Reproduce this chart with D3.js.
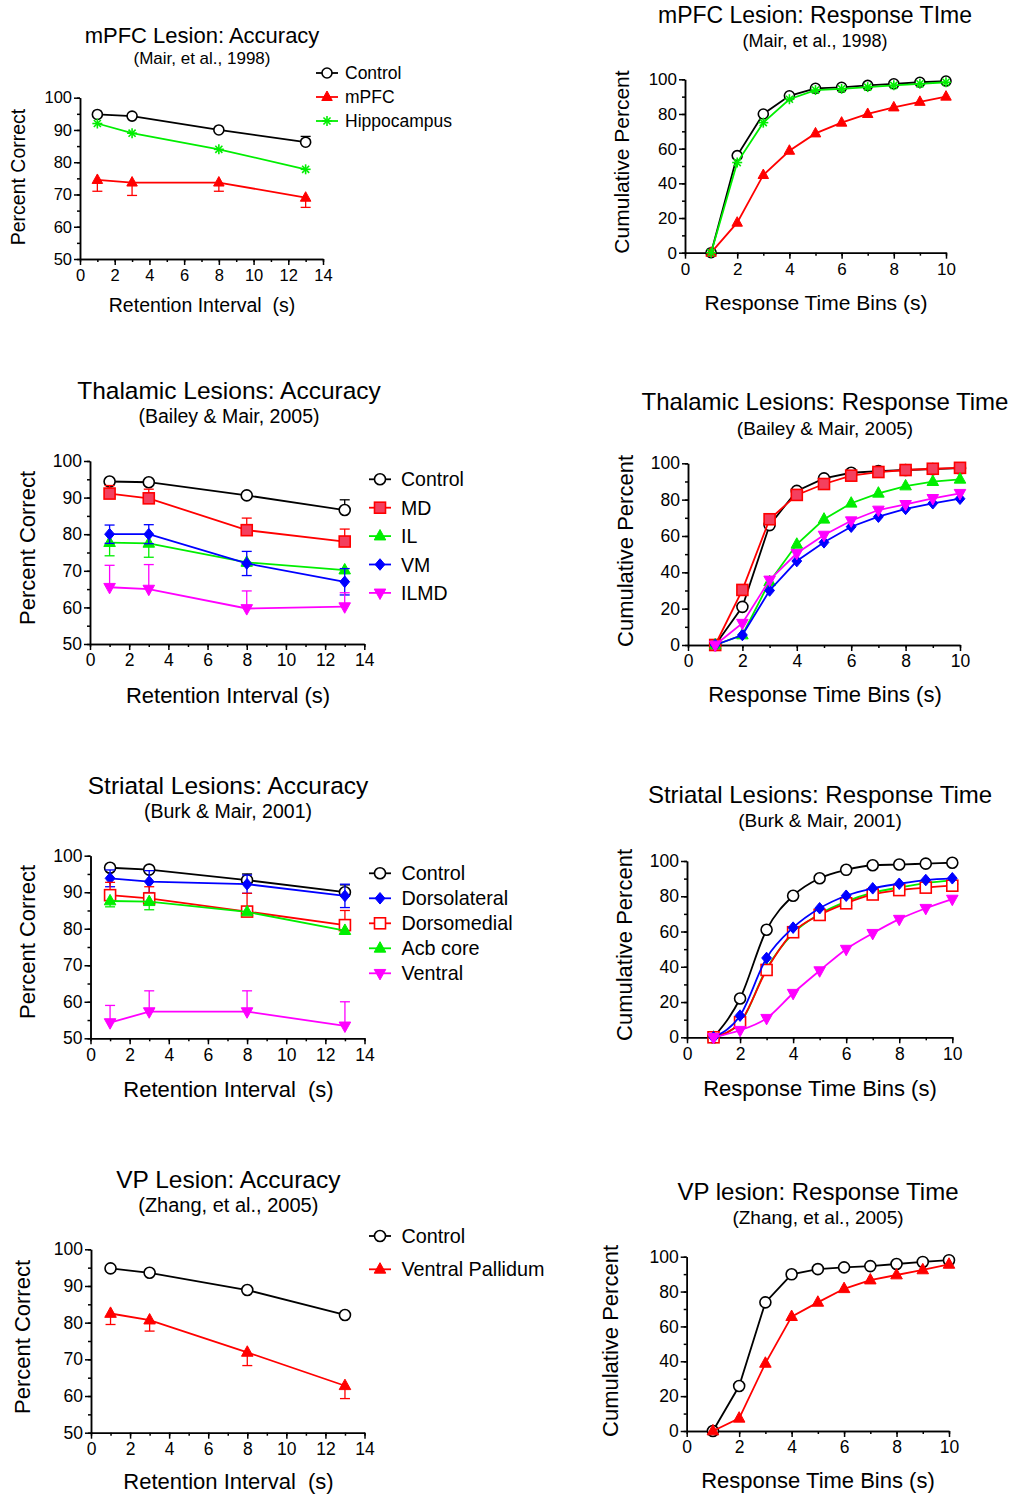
<!DOCTYPE html>
<html lang="en">
<head>
<meta charset="utf-8" />
<title>Lesions: accuracy and response time</title>
<script src="https://cdn.jsdelivr.net/npm/d3@7"></script>
<style>
  body { margin: 0; background: #fff; }
  svg text { font-family: "Liberation Sans", Arial, sans-serif; fill: #000; }
</style>
</head>
<body>
<script>
// x values
var retention = [1, 3, 8, 13];
var rtBins = [1, 2, 3, 4, 5, 6, 7, 8, 9, 10];

// mPFC lesion accuracy (Mair et al., 1998)
var mpfcAccControl = [94.8, 94.3, 90.0, 86.2];
var mpfcAccControlErr = [0.4, 0.4, 0.6, 1.8];
var mpfcAccLesion = [74.5, 73.7, 73.7, 69.0];
var mpfcAccLesionErr = [3.5, 4.0, 2.7, 3.0];
var mpfcAccHippo = [92.0, 89.0, 84.0, 77.8];

// mPFC lesion response time
var mpfcRtControl = [0, 56, 80, 90.5, 94.8, 95.4, 96.5, 97.4, 98.3, 99];
var mpfcRtLesion = [0, 17.3, 44.8, 58.8, 68.8, 75, 80, 83.8, 87, 90];
var mpfcRtHippo = [0, 52, 75, 88.5, 93.8, 94.5, 95.5, 96.5, 97.4, 98.3];

// thalamic lesions accuracy (Bailey & Mair, 2005)
var thalAccControl = [94.4, 94.2, 90.6, 86.6];
var thalAccControlErr = [0.5, 0.5, 0.5, 2.8];
var thalAccMD = [91.1, 89.8, 81.1, 78.0];
var thalAccMDErr = [2.2, 2.5, 3.3, 3.4];
var thalAccIL = [77.7, 77.5, 72.3, 70.2];
var thalAccILErr = [3.6, 3.8, 1.0, 0.8];
var thalAccVM = [80.0, 80.0, 72.0, 67.0];
var thalAccVMErr = [2.5, 2.6, 3.3, 3.6];
var thalAccILMD = [65.5, 65.0, 59.7, 60.2];
var thalAccILMDErr = [6.0, 6.7, 4.8, 3.8];

// thalamic lesions response time
var thalRtControl = [0, 21, 66, 84.8, 91.7, 94.8, 95.7, 96.3, 96.8, 97.3];
var thalRtMD = [0, 30.3, 69.2, 82.6, 88.6, 93.2, 95.2, 96.3, 97.0, 97.5];
var thalRtIL = [0, 5.5, 34.8, 55.4, 69.2, 78, 83.5, 87.5, 89.9, 91.2];
var thalRtVM = [0, 5.5, 30, 46.2, 56.5, 65.1, 70.6, 74.9, 78, 80.5];
var thalRtILMD = [0, 12, 35.8, 50.5, 60.5, 68.4, 74.3, 77.4, 80.7, 83.5];

// striatal lesions accuracy (Burk & Mair, 2001)
var striAccControl = [96.7, 96.2, 93.3, 90.0];
var striAccControlErr = [0.4, 0.4, 1.7, 2.0];
var striAccDL = [93.8, 92.9, 92.2, 89.0];
var striAccDLErr = [2.3, 3.0, 2.5, 3.2];
var striAccDM = [89.2, 88.3, 84.7, 81.0];
var striAccDMErr = [3.5, 3.2, 5.0, 4.0];
var striAccAcb = [87.6, 87.4, 84.6, 79.5];
var striAccAcbErr = [1.6, 2.2, 0.5, 1.0];
var striAccVentral = [54.3, 57.3, 57.3, 53.4];
var striAccVentralErr = [4.7, 5.7, 5.7, 6.6];

// striatal lesions response time
var striRtControl = [0, 22, 61, 80.3, 90.2, 95, 97.6, 98, 98.5, 99];
var striRtDL = [0, 12.3, 45, 62.2, 73.2, 80.3, 84.5, 87.1, 89.2, 90.2];
var striRtDM = [0, 8.5, 38.2, 59.6, 69.4, 76, 81, 83.5, 84.9, 86];
var striRtAcb = [0, 8, 39, 59, 70, 77, 82, 85, 87.5, 89];
var striRtVentral = [0, 4, 10.8, 25, 37.8, 50, 59, 67, 73.2, 78.4];

// VP lesion accuracy (Zhang et al., 2005)
var vpAccControl = [94.8, 93.6, 88.9, 82.1];
var vpAccLesion = [82.5, 80.7, 71.9, 62.8];
var vpAccLesionErr = [3.0, 3.0, 3.6, 3.5];

// VP lesion response time
var vpRtControl = [0, 25.8, 73.8, 89.9, 92.9, 93.9, 94.6, 95.8, 97, 98];
var vpRtLesion = [0, 7.3, 38.8, 65.6, 73.8, 81.6, 86.6, 89.5, 92.4, 95.6];

var RED = "#ff0000", GREEN = "#00ee00", BLUE = "#0000ff", MAG = "#ff00ff", BLACK = "#000";

var svg = d3.select("body").append("svg")
  .attr("width", 1015)
  .attr("height", 1496);

svg.append("rect").attr("width", 1015).attr("height", 1496).attr("fill", "#fff");

function drawMarker(g, type, cx, cy, s, color, fill) {
  var h = s / 2;
  if (type == "circle") {
    g.append("circle").attr("cx", cx).attr("cy", cy).attr("r", h)
      .attr("fill", "#fff").attr("stroke", color).attr("stroke-width", 1.6);
  } else if (type == "triUp" || type == "triDown") {
    var k = type == "triUp" ? 1 : -1;
    var pts = [[cx, cy - k * s * 0.6], [cx - h * 1.05, cy + k * s * 0.35], [cx + h * 1.05, cy + k * s * 0.35]];
    g.append("polygon").attr("points", pts.map(function (p) { return p.join(","); }).join(" "))
      .attr("fill", color).attr("stroke", color).attr("stroke-width", 1);
  } else if (type == "square") {
    g.append("rect").attr("x", cx - h).attr("y", cy - h).attr("width", s).attr("height", s)
      .attr("fill", fill || color).attr("stroke", color).attr("stroke-width", 1.6);
  } else if (type == "diamond") {
    var d = h * 1.05;
    g.append("polygon")
      .attr("points", [[cx, cy - d], [cx + d * 0.85, cy], [cx, cy + d], [cx - d * 0.85, cy]].map(function (p) { return p.join(","); }).join(" "))
      .attr("fill", color).attr("stroke", color).attr("stroke-width", 1);
  } else if (type == "star") {
    [0, 45, 90, 135].forEach(function (a) {
      var r = a * Math.PI / 180, dx = Math.cos(r) * h, dy = Math.sin(r) * h;
      g.append("line").attr("x1", cx - dx).attr("y1", cy - dy).attr("x2", cx + dx).attr("y2", cy + dy)
        .attr("stroke", color).attr("stroke-width", 1.6);
    });
  }
}

function drawPanel(p) {
  var g = svg.append("g");
  var x = d3.scaleLinear().domain(p.xDomain).range([p.left, p.right]);
  var y = d3.scaleLinear().domain(p.yDomain).range([p.bottom, p.top]);

  // titles
  g.append("text").attr("x", p.titleX).attr("y", p.titleY).attr("text-anchor", "middle")
    .style("font-size", p.fs.title + "px").text(p.title);
  g.append("text").attr("x", p.titleX).attr("y", p.subY).attr("text-anchor", "middle")
    .style("font-size", p.fs.sub + "px").text(p.subtitle);

  // minor ticks
  g.append("g").attr("transform", "translate(0," + p.bottom + ")")
    .call(d3.axisBottom(x).tickValues(d3.range(p.xDomain[0], p.xDomain[1] + 0.01, p.xMinor)).tickSize(3).tickFormat("").tickSizeOuter(0));
  g.append("g").attr("transform", "translate(" + p.left + ",0)")
    .call(d3.axisLeft(y).tickValues(d3.range(p.yDomain[0], p.yDomain[1] + 0.01, p.yMinor)).tickSize(3).tickFormat("").tickSizeOuter(0));

  // major ticks
  var xa = g.append("g").attr("transform", "translate(0," + p.bottom + ")")
    .call(d3.axisBottom(x).tickValues(p.xTicks).tickSize(6).tickPadding(4).tickSizeOuter(0));
  var ya = g.append("g").attr("transform", "translate(" + p.left + ",0)")
    .call(d3.axisLeft(y).tickValues(p.yTicks).tickSize(6).tickPadding(2).tickSizeOuter(0));
  g.selectAll(".domain, .tick line").attr("stroke", "#000").attr("stroke-width", 1.5);
  [xa, ya].forEach(function (a) {
    a.selectAll("text").style("font-size", p.fs.tick + "px").attr("fill", "#000")
      .style("font-family", '"Liberation Sans", Arial, sans-serif');
  });

  // axis labels
  g.append("text").attr("x", p.xLabelX).attr("y", p.xLabelY).attr("text-anchor", "middle")
    .style("font-size", p.fs.label + "px").style("white-space", "pre").text(p.xLabel);
  g.append("text").attr("transform", "translate(" + p.yLabelX + "," + p.yLabelY + ") rotate(-90)")
    .attr("text-anchor", "middle").style("font-size", p.fs.label + "px").text(p.yLabel);

  var line = d3.line()
    .x(function (d) { return x(d[0]); })
    .y(function (d) { return y(d[1]); })
    .curve(p.curve || d3.curveLinear);

  p.series.forEach(function (s) {
    var pts = s.y.map(function (v, i) { return [p.xs[i], v]; });
    var sg = g.append("g");
    // error bars
    if (s.err) {
      s.y.forEach(function (v, i) {
        var e = s.err[i];
        var ends = [];
        if (s.side == "up" || s.side == "both") ends.push(v + e);
        if (s.side == "down" || s.side == "both") ends.push(v - e);
        ends.forEach(function (ev) {
          sg.append("line").attr("x1", x(p.xs[i])).attr("x2", x(p.xs[i]))
            .attr("y1", y(v)).attr("y2", y(ev)).attr("stroke", s.color).attr("stroke-width", 1.3);
          sg.append("line").attr("x1", x(p.xs[i]) - 5).attr("x2", x(p.xs[i]) + 5)
            .attr("y1", y(ev)).attr("y2", y(ev)).attr("stroke", s.color).attr("stroke-width", 1.3);
        });
      });
    }
    sg.append("path").datum(pts).attr("d", line)
      .attr("fill", "none").attr("stroke", s.color).attr("stroke-width", 1.8);
    pts.forEach(function (d) {
      drawMarker(sg, s.marker, x(d[0]), y(d[1]), p.ms, s.color, s.fill);
    });
  });

  // legend
  if (p.legend) {
    p.series.forEach(function (s, i) {
      var ly = p.legend.y + i * p.legend.dy;
      g.append("line").attr("x1", p.legend.x - 11).attr("x2", p.legend.x + 11)
        .attr("y1", ly).attr("y2", ly).attr("stroke", s.color).attr("stroke-width", 1.8);
      drawMarker(g, s.marker, p.legend.x, ly, p.ms, s.color, s.fill);
      g.append("text").attr("x", p.legend.tx).attr("y", ly + p.fs.legend * 0.36)
        .style("font-size", p.fs.legend + "px").text(s.name);
    });
  }
}

var accAxes = { xDomain: [0, 14], yDomain: [50, 100], xTicks: d3.range(0, 15, 2), yTicks: d3.range(50, 101, 10), xMinor: 1, yMinor: 5, xs: retention };
var rtAxes = { xDomain: [0, 10], yDomain: [0, 100], xTicks: d3.range(0, 11, 2), yTicks: d3.range(0, 101, 20), xMinor: 1, yMinor: 10, xs: rtBins };

var panels = [
  Object.assign({}, accAxes, {
    left: 80, right: 323, top: 97.7, bottom: 259, ms: 10,
    title: "mPFC Lesion: Accuracy", subtitle: "(Mair, et al., 1998)",
    titleX: 202, titleY: 43, subY: 64,
    xLabel: "Retention Interval  (s)", xLabelX: 202, xLabelY: 312,
    yLabel: "Percent Correct", yLabelX: 25, yLabelY: 177,
    fs: { title: 22, sub: 17, tick: 16.5, label: 19.5, legend: 17.5 },
    legend: { x: 327, y: 73, dy: 24, tx: 345 },
    series: [
      { name: "Control", y: mpfcAccControl, err: mpfcAccControlErr, side: "up", color: BLACK, marker: "circle" },
      { name: "mPFC", y: mpfcAccLesion, err: mpfcAccLesionErr, side: "down", color: RED, marker: "triUp" },
      { name: "Hippocampus", y: mpfcAccHippo, color: GREEN, marker: "star" }
    ]
  }),
  Object.assign({}, rtAxes, {
    left: 685, right: 946, top: 79.3, bottom: 252.7, ms: 10,
    title: "mPFC Lesion: Response TIme", subtitle: "(Mair, et al., 1998)",
    titleX: 815, titleY: 23, subY: 47,
    xLabel: "Response Time Bins (s)", xLabelX: 816, xLabelY: 310,
    yLabel: "Cumulative Percent", yLabelX: 629, yLabelY: 162,
    fs: { title: 23, sub: 18, tick: 17, label: 21 },
    series: [
      { name: "Control", y: mpfcRtControl, color: BLACK, marker: "circle" },
      { name: "mPFC", y: mpfcRtLesion, color: RED, marker: "triUp" },
      { name: "Hippocampus", y: mpfcRtHippo, color: GREEN, marker: "star" }
    ]
  }),
  Object.assign({}, accAxes, {
    left: 90, right: 364.3, top: 461, bottom: 644, ms: 11,
    title: "Thalamic Lesions: Accuracy", subtitle: "(Bailey & Mair, 2005)",
    titleX: 229, titleY: 399, subY: 423,
    xLabel: "Retention Interval (s)", xLabelX: 228, xLabelY: 703,
    yLabel: "Percent Correct", yLabelX: 35, yLabelY: 548,
    fs: { title: 24.5, sub: 19.5, tick: 17.5, label: 22, legend: 19.5 },
    legend: { x: 380, y: 479.3, dy: 28.4, tx: 401 },
    series: [
      { name: "Control", y: thalAccControl, err: thalAccControlErr, side: "up", color: BLACK, marker: "circle" },
      { name: "MD", y: thalAccMD, err: thalAccMDErr, side: "up", color: RED, marker: "square", fill: "#f4405e" },
      { name: "IL", y: thalAccIL, err: thalAccILErr, side: "down", color: GREEN, marker: "triUp" },
      { name: "VM", y: thalAccVM, err: thalAccVMErr, side: "both", color: BLUE, marker: "diamond" },
      { name: "ILMD", y: thalAccILMD, err: thalAccILMDErr, side: "up", color: MAG, marker: "triDown" }
    ]
  }),
  Object.assign({}, rtAxes, {
    left: 688, right: 960, top: 463.3, bottom: 645, ms: 11,
    title: "Thalamic Lesions: Response Time", subtitle: "(Bailey & Mair, 2005)",
    titleX: 825, titleY: 410, subY: 435,
    xLabel: "Response Time Bins (s)", xLabelX: 825, xLabelY: 702,
    yLabel: "Cumulative Percent", yLabelX: 633, yLabelY: 551,
    fs: { title: 24, sub: 19, tick: 17.5, label: 22 },
    series: [
      { name: "Control", y: thalRtControl, color: BLACK, marker: "circle" },
      { name: "MD", y: thalRtMD, color: RED, marker: "square", fill: "#f4405e" },
      { name: "IL", y: thalRtIL, color: GREEN, marker: "triUp" },
      { name: "VM", y: thalRtVM, color: BLUE, marker: "diamond" },
      { name: "ILMD", y: thalRtILMD, color: MAG, marker: "triDown" }
    ]
  }),
  Object.assign({}, accAxes, {
    left: 90.5, right: 364.5, top: 855.7, bottom: 1038.3, ms: 11,
    title: "Striatal Lesions: Accuracy", subtitle: "(Burk & Mair, 2001)",
    titleX: 228, titleY: 794, subY: 818,
    xLabel: "Retention Interval  (s)", xLabelX: 228.5, xLabelY: 1097,
    yLabel: "Percent Correct", yLabelX: 35, yLabelY: 942,
    fs: { title: 24.5, sub: 19.5, tick: 17.5, label: 22, legend: 19.8 },
    legend: { x: 380, y: 873.3, dy: 25, tx: 401.5 },
    series: [
      { name: "Control", y: striAccControl, err: striAccControlErr, side: "up", color: BLACK, marker: "circle" },
      { name: "Dorsolateral", y: striAccDL, err: striAccDLErr, side: "both", color: BLUE, marker: "diamond" },
      { name: "Dorsomedial", y: striAccDM, err: striAccDMErr, side: "up", color: RED, marker: "square", fill: "#fff" },
      { name: "Acb core", y: striAccAcb, err: striAccAcbErr, side: "down", color: GREEN, marker: "triUp" },
      { name: "Ventral", y: striAccVentral, err: striAccVentralErr, side: "up", color: MAG, marker: "triDown" }
    ]
  }),
  Object.assign({}, rtAxes, {
    left: 687, right: 952.3, top: 861, bottom: 1037.3, ms: 11, curve: d3.curveMonotoneX,
    title: "Striatal Lesions: Response Time", subtitle: "(Burk & Mair, 2001)",
    titleX: 820, titleY: 803, subY: 827,
    xLabel: "Response Time Bins (s)", xLabelX: 820, xLabelY: 1096,
    yLabel: "Cumulative Percent", yLabelX: 632, yLabelY: 945,
    fs: { title: 24, sub: 19, tick: 17.5, label: 22 },
    series: [
      { name: "Control", y: striRtControl, color: BLACK, marker: "circle" },
      { name: "Acb core", y: striRtAcb, color: GREEN, marker: "triUp" },
      { name: "Dorsomedial", y: striRtDM, color: RED, marker: "square", fill: "#fff" },
      { name: "Dorsolateral", y: striRtDL, color: BLUE, marker: "diamond" },
      { name: "Ventral", y: striRtVentral, color: MAG, marker: "triDown" }
    ]
  }),
  Object.assign({}, accAxes, {
    left: 91, right: 364.5, top: 1249.3, bottom: 1432.7, ms: 11,
    title: "VP Lesion: Accuracy", subtitle: "(Zhang, et al., 2005)",
    titleX: 228.3, titleY: 1188, subY: 1212,
    xLabel: "Retention Interval  (s)", xLabelX: 228.5, xLabelY: 1489,
    yLabel: "Percent Correct", yLabelX: 30, yLabelY: 1337,
    fs: { title: 24.5, sub: 20, tick: 17.5, label: 22, legend: 19.8 },
    legend: { x: 380, y: 1236, dy: 33.3, tx: 401.5 },
    series: [
      { name: "Control", y: vpAccControl, color: BLACK, marker: "circle" },
      { name: "Ventral Pallidum", y: vpAccLesion, err: vpAccLesionErr, side: "down", color: RED, marker: "triUp" }
    ]
  }),
  Object.assign({}, rtAxes, {
    left: 686.7, right: 949, top: 1256.7, bottom: 1431, ms: 11,
    title: "VP lesion: Response Time", subtitle: "(Zhang, et al., 2005)",
    titleX: 818, titleY: 1200, subY: 1224,
    xLabel: "Response Time Bins (s)", xLabelX: 818, xLabelY: 1488,
    yLabel: "Cumulative Percent", yLabelX: 618, yLabelY: 1341,
    fs: { title: 24, sub: 19, tick: 17.5, label: 22 },
    series: [
      { name: "Control", y: vpRtControl, color: BLACK, marker: "circle" },
      { name: "Ventral Pallidum", y: vpRtLesion, color: RED, marker: "triUp" }
    ]
  })
];

panels.forEach(drawPanel);
</script>
</body>
</html>
